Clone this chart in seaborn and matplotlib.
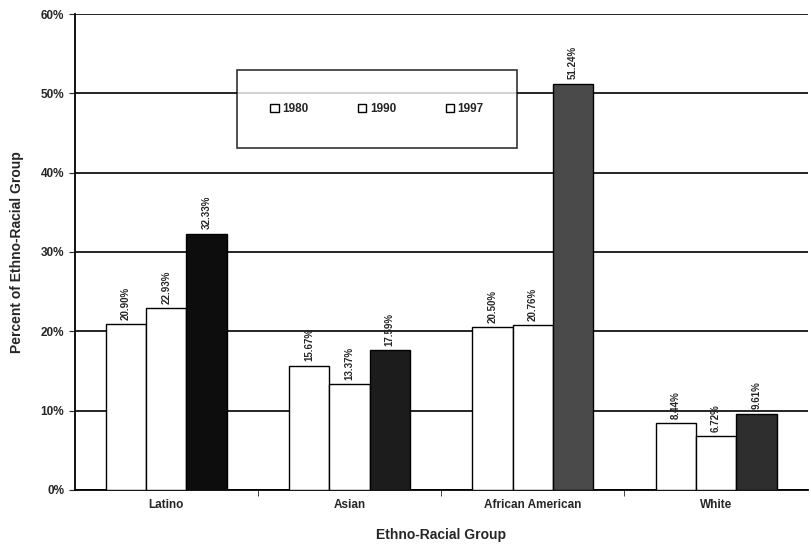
import pandas as pd
import matplotlib.pyplot as plt
from matplotlib.patches import Patch
from matplotlib.ticker import PercentFormatter
import seaborn as sns

groups = ['Latino', 'Asian', 'African American', 'White']
years = ['1980', '1990', '1997']
pct_1980 = [20.90, 15.67, 20.50, 8.44]
pct_1990 = [22.93, 13.37, 20.76, 6.72]
pct_1997 = [32.33, 17.59, 51.24, 9.61]
fill_1997 = ['#0d0d0d', '#1c1c1c', '#4a4a4a', '#2e2e2e']

df = pd.DataFrame({
    'group': groups * 3,
    'year': [y for y in years for _ in groups],
    'pct': pct_1980 + pct_1990 + pct_1997,
})

sns.set_style('white')
plt.rcParams['font.family'] = ['Liberation Sans', 'DejaVu Sans']

fig, ax = plt.subplots(figsize=(8.11, 5.46), dpi=100)
fig.subplots_adjust(left=0.092, right=0.996, bottom=0.103, top=0.974)

sns.barplot(data=df, x='group', y='pct', hue='year', order=groups,
            hue_order=years, width=0.66, palette=['white', 'white', 'black'],
            edgecolor='black', linewidth=1.0, ax=ax, legend=False, zorder=3)

# texture colours for the 1997 bars
for bar, c in zip(ax.containers[2], fill_1997):
    bar.set_facecolor(c)

for cont in ax.containers:
    ax.bar_label(cont, labels=[f'{v:.2f}%' for v in cont.datavalues],
                 rotation=90, padding=3, fontsize=7, fontweight='bold', zorder=4)

ax.set_ylim(0, 60)
ax.set_xlim(-0.5, 3.5)
ax.set_yticks(range(0, 61, 10))
ax.yaxis.set_major_formatter(PercentFormatter(decimals=0))
ax.yaxis.grid(True, color='black', linewidth=1.2, zorder=0)
ax.set_axisbelow(True)

for s in ['left', 'bottom']:
    ax.spines[s].set_color('black')
    ax.spines[s].set_linewidth(1.3)
ax.spines['right'].set_visible(False)
ax.spines['top'].set_visible(False)

ax.tick_params(axis='y', length=4, direction='out', left=True, labelsize=8.5)
ax.tick_params(axis='x', length=0, labelsize=8.5, pad=7)
ax.set_xticks([0.5, 1.5, 2.5], minor=True)
ax.tick_params(axis='x', which='minor', length=4, direction='out', bottom=True)
for t in ax.get_yticklabels() + ax.get_xticklabels():
    t.set_fontweight('bold')

ax.set_xlabel('Ethno-Racial Group', fontsize=10, fontweight='bold', labelpad=12)
ax.set_ylabel('Percent of Ethno-Racial Group', fontsize=10, fontweight='bold', labelpad=12)

handles = [Patch(facecolor='white', edgecolor='black', linewidth=1.0) for _ in years]
leg = ax.legend(handles, years, ncol=3, loc='center', mode='expand',
                bbox_to_anchor=(0.222, 0.718, 0.381, 0.164),
                handlelength=0.7, handleheight=0.7, handletextpad=0.3,
                borderpad=2.8, borderaxespad=0, fontsize=8.5,
                frameon=True, fancybox=False)
leg.get_frame().set_edgecolor('black')
leg.get_frame().set_linewidth(1.2)
for t in leg.get_texts():
    t.set_fontweight('bold')

plt.savefig('out.png', dpi=100)
